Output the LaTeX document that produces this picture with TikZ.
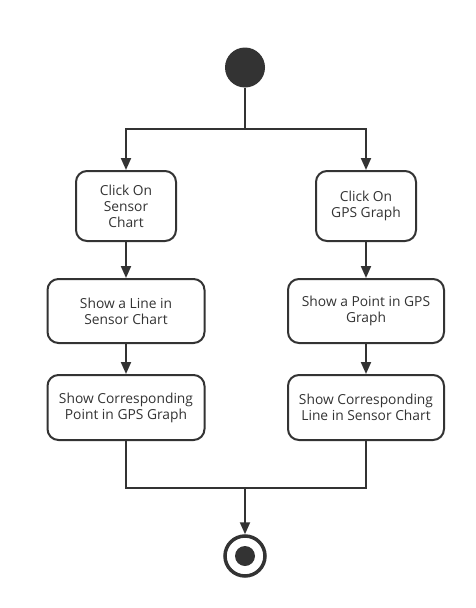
\documentclass[tikz,border=0pt]{standalone}
\usepackage{fontspec}
\setmainfont{Open Sans}
\usepackage{xcolor}
\usetikzlibrary{arrows.meta}

\definecolor{ink}{HTML}{333333}

\begin{document}
\begin{tikzpicture}[x=1pt,y=-1pt,
        action/.style={draw=ink, line width=2pt, rounded corners=11pt, align=center,
            text=ink, font=\fontsize{13.8}{16}\selectfont, inner sep=0pt},
        flow/.style={draw=ink, line width=2pt, -{Triangle[length=12pt,width=10pt]}}]
        \useasboundingbox (0,0) rectangle (476,608);

        %% Start and end
        \node [circle, fill=ink, minimum size=40pt, inner sep=0pt] (start) at (245,67.5) {};
        \node [circle, draw=ink, line width=3.5pt, minimum size=40pt, inner sep=0pt] (finish) at (245,556) {};
        \node [circle, fill=ink, minimum size=20pt, inner sep=0pt] (finish-dot) at (245,556) {};

        %% Fork and join points
        \coordinate (fork) at (245,129);
        \coordinate (join) at (245,488);

        %% Left branch
        \node [action, minimum width=100pt, minimum height=70pt] (click-sensor) at (126,206) {Click On\\Sensor\\Chart};
        \node [action, minimum width=157pt, minimum height=64pt] (show-line) at (126,311) {Show a Line in\\Sensor Chart};
        \node [action, minimum width=157pt, minimum height=65pt] (show-point) at (126,407.5) {Show Corresponding\\Point in GPS Graph};

        %% Right branch
        \node [action, minimum width=100pt, minimum height=70pt] (click-gps) at (366,206) {Click On\\GPS Graph};
        \node [action, minimum width=156pt, minimum height=64pt] (gps-point) at (366,311) {Show a Point in GPS\\Graph};
        \node [action, minimum width=156pt, minimum height=65pt] (sensor-line) at (366,407.5) {Show Corresponding\\Line in Sensor Chart};

        %% Connectors
        \draw [draw=ink, line width=2pt] (start) -- (fork);
        \draw [flow] (fork) -| (click-sensor);
        \draw [flow] (fork) -| (click-gps);
        \draw [flow] (click-sensor) -- (show-line);
        \draw [flow] (show-line) -- (show-point);
        \draw [flow] (click-gps) -- (gps-point);
        \draw [flow] (gps-point) -- (sensor-line);
        \draw [draw=ink, line width=2pt] (show-point) |- (join) -| (sensor-line);
        \draw [flow] (join) -- (finish);
    \end{tikzpicture}
\end{document}
